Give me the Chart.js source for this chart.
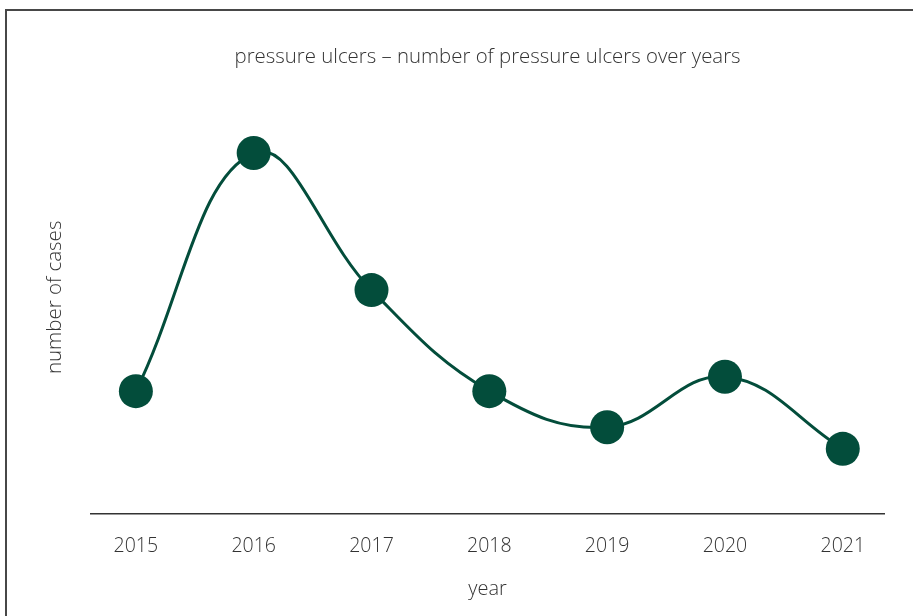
<!DOCTYPE html>
<html>
<head>
<meta charset="utf-8">
<script src="https://cdn.jsdelivr.net/npm/chart.js@4"></script>
<style>
    html, body { margin: 0; padding: 0; background: #fff; }
    #wrap { position: relative; width: 913px; height: 616px; overflow: hidden; }
    #frame { position: absolute; left: 5px; top: 9px; right: 0; bottom: 0;
             border-left: 2px solid #474747; border-top: 2px solid #474747; pointer-events: none; }
    canvas { position: absolute; left: 0; top: 0; }
</style>
</head>
<body>
<div id="wrap">
    <canvas id="chart" width="913" height="616"></canvas>
    <div id="frame"></div>
</div>
<script>
const years = ['2015', '2016', '2017', '2018', '2019', '2020', '2021'];
const cases = [34, 100, 62, 34, 24, 38, 18];

const green = '#034d3b';
const textColor = '#333333';
const fontFamily = "'Open Sans', 'Noto Sans', sans-serif";

Chart.defaults.font.family = fontFamily;
Chart.defaults.font.weight = 300;
Chart.defaults.color = textColor;

const points = cases.map((v, i) => ({x: i, y: v}));

new Chart(document.getElementById('chart'), {
    type: 'line',
    data: {
        datasets: [{
            data: points,
            borderColor: green,
            backgroundColor: green,
            borderWidth: 3,
            tension: 0.4,
            pointRadius: 17,
            pointHoverRadius: 17,
            pointBorderWidth: 0,
            pointBackgroundColor: green,
            clip: false
        }]
    },
    options: {
        responsive: false,
        animation: false,
        layout: {
            padding: {left: 40, right: 29, top: 10, bottom: 10}
        },
        scales: {
            x: {
                type: 'linear',
                min: -0.38,
                max: 6.35,
                grid: {display: false},
                border: {display: true, color: '#333', width: 1.5},
                afterBuildTicks: axis => {
                    axis.ticks = years.map((y, i) => ({value: i}));
                },
                ticks: {
                    padding: 13,
                    font: {size: 19.5, weight: 300},
                    color: textColor,
                    callback: value => years[value]
                },
                title: {
                    display: true,
                    text: 'year',
                    font: {size: 20, weight: 300},
                    color: textColor,
                    padding: {top: 6, bottom: 4.8}
                }
            },
            y: {
                min: 0,
                max: 120,
                grid: {display: false},
                border: {display: false},
                ticks: {display: false},
                title: {
                    display: true,
                    text: 'number of cases',
                    font: {size: 20.5, weight: 300},
                    color: textColor,
                    padding: {top: 2.5, bottom: 16}
                }
            }
        },
        plugins: {
            legend: {display: false},
            tooltip: {enabled: false},
            title: {
                display: true,
                fullSize: false,
                text: 'pressure ulcers – number of pressure ulcers over years',
                font: {size: 20.4, weight: 300},
                color: textColor,
                padding: {top: 34.7, bottom: 11.7}
            }
        }
    }
});
</script>
</body>
</html>
